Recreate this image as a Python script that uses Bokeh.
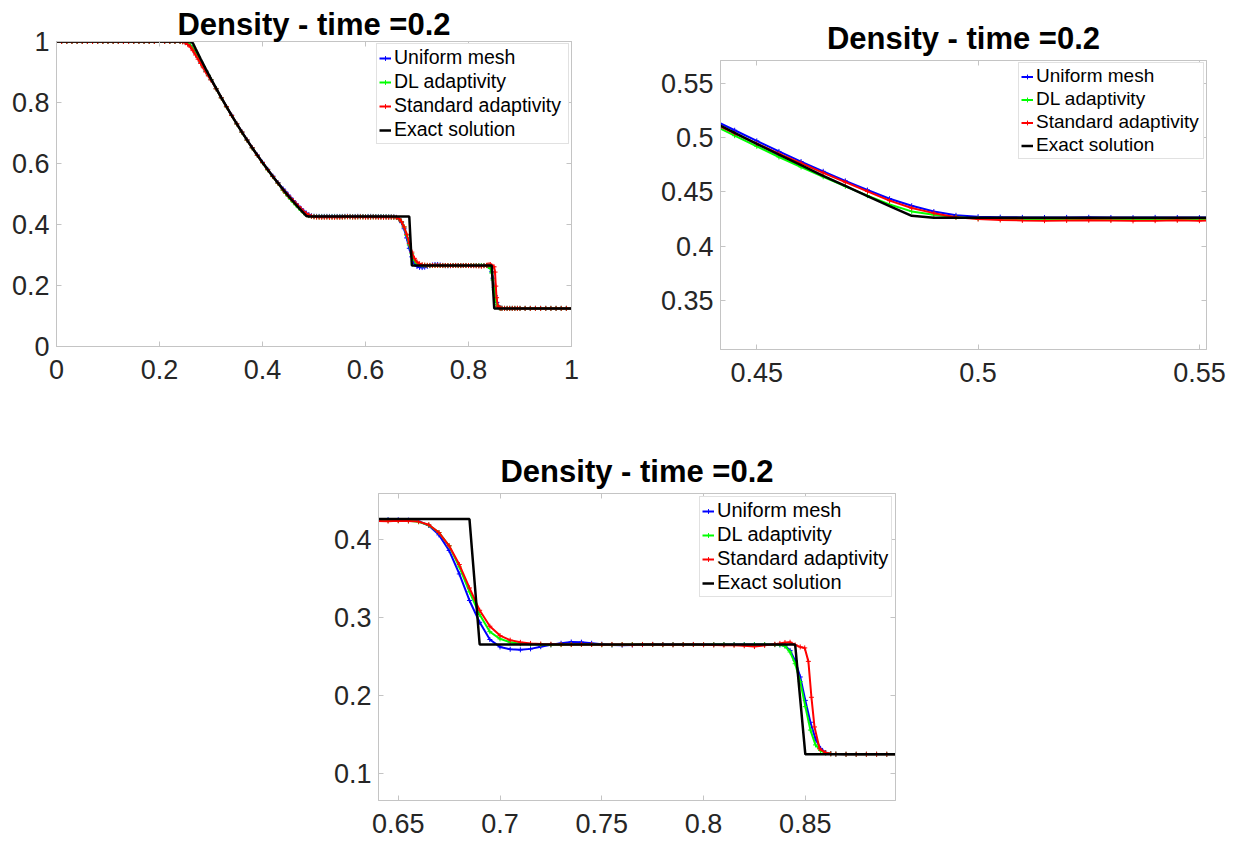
from bokeh.plotting import figure
from bokeh.models import (Range1d, FixedTicker, LinearAxis, Legend, LegendItem,
                          ColumnDataSource)
from bokeh.layouts import column, row
from bokeh.embed import file_html
from bokeh.resources import INLINE

# ---------------- data ----------------
series_names = ["Uniform mesh", "DL adaptivity", "Standard adaptivity", "Exact solution"]
series_colors = ["#0000ff", "#00ff00", "#ff0000", "#000000"]

flat_x = [0.00, 0.01, 0.02, 0.03, 0.04, 0.05, 0.06, 0.07, 0.08, 0.09, 0.10, 0.11, 0.12,
          0.13, 0.14, 0.15, 0.16, 0.17, 0.18, 0.19, 0.20, 0.21, 0.22, 0.23, 0.24]
head_x = [0.245, 0.25, 0.255, 0.26, 0.265, 0.27, 0.275, 0.28, 0.285, 0.29, 0.295, 0.30]
fan_x = [0.31, 0.32, 0.33, 0.34, 0.35, 0.36, 0.37, 0.38, 0.39, 0.40, 0.41, 0.42, 0.43]
mid_x = [0.440, 0.445, 0.450, 0.455, 0.460, 0.465, 0.470, 0.475, 0.480, 0.485,
         0.490, 0.495, 0.500, 0.505, 0.510, 0.515, 0.520, 0.525, 0.530, 0.535,
         0.540, 0.545, 0.550, 0.555, 0.560, 0.565, 0.570, 0.575, 0.580, 0.585,
         0.590, 0.595, 0.600, 0.605, 0.610, 0.615, 0.620, 0.625, 0.630, 0.635,
         0.640, 0.645, 0.650, 0.655, 0.660, 0.665, 0.670, 0.675, 0.680, 0.685,
         0.690, 0.695, 0.700, 0.705, 0.710, 0.715, 0.720, 0.725, 0.730, 0.735,
         0.740, 0.745, 0.750, 0.755, 0.760, 0.765, 0.770, 0.775, 0.780, 0.785,
         0.790, 0.795, 0.800, 0.805, 0.810, 0.815, 0.820, 0.825, 0.830, 0.835]
shock_x = [0.8375, 0.84, 0.8425, 0.845, 0.8475, 0.85, 0.8525, 0.855, 0.8575, 0.86, 0.8625, 0.865]
std_shock_x = [0.8375, 0.84, 0.8425, 0.845, 0.8475, 0.8497, 0.8515, 0.853, 0.8545, 0.857,
               0.86, 0.8625, 0.865]
right_x = [0.87, 0.875, 0.88, 0.885, 0.89, 0.895]
far_x = [0.90, 0.91, 0.92, 0.93, 0.94, 0.95, 0.96, 0.97, 0.98, 0.99, 1.00]

uniform_x = flat_x + head_x + fan_x + mid_x + shock_x + right_x + far_x
uniform_y = ([1.0, 1.0, 1.0, 1.0, 1.0, 1.0, 1.0, 1.0, 1.0, 1.0, 1.0, 1.0, 1.0,
              1.0, 1.0, 1.0, 1.0, 1.0, 1.0, 1.0, 1.0, 1.0, 1.0, 1.0, 1.0]
             + [0.9995, 0.998, 0.994, 0.987, 0.976, 0.962, 0.948, 0.932, 0.918, 0.903, 0.889, 0.875]
             + [0.8455, 0.8160, 0.7868, 0.7583, 0.7305, 0.7036, 0.6775, 0.6522, 0.6277,
                0.6040, 0.5810, 0.5588, 0.5374]
             + [0.5167, 0.5068, 0.4970, 0.4873, 0.4780, 0.4690, 0.4602, 0.4518, 0.4438, 0.4373,
                0.4320, 0.4285, 0.4272, 0.4268, 0.4266, 0.4265, 0.4266, 0.4267, 0.4265, 0.4264,
                0.4266, 0.4265, 0.4264, 0.4265, 0.4268, 0.4270, 0.4266, 0.4262, 0.4264, 0.4268,
                0.4266, 0.4263, 0.4262, 0.4265, 0.4267, 0.4264, 0.4262, 0.4263, 0.4261, 0.4259,
                0.4257, 0.4255, 0.4253, 0.4249, 0.4235, 0.4180, 0.4060, 0.3860, 0.3560, 0.3220,
                0.2940, 0.2720, 0.2625, 0.2595, 0.2588, 0.2600, 0.2628, 0.2652, 0.2672, 0.2688,
                0.2686, 0.2672, 0.2660, 0.2650, 0.2648, 0.2651, 0.2655, 0.2657, 0.2656, 0.2655,
                0.2656, 0.2657, 0.2656, 0.2655, 0.2656, 0.2656, 0.2655, 0.2656, 0.2656, 0.2655]
             + [0.2652, 0.2640, 0.2580, 0.2450, 0.2240, 0.1940, 0.1660, 0.1445, 0.1325, 0.1272,
                0.1258, 0.1252]
             + [0.125, 0.125, 0.125, 0.125, 0.125, 0.125]
             + [0.125, 0.125, 0.125, 0.125, 0.125, 0.125, 0.125, 0.125, 0.125, 0.125, 0.125])

dl_x = flat_x + head_x + fan_x + mid_x + shock_x + right_x + far_x
dl_y = ([1.0, 1.0, 1.0, 1.0, 1.0, 1.0, 1.0, 1.0, 1.0, 1.0, 1.0, 1.0, 1.0,
         1.0, 1.0, 1.0, 1.0, 1.0, 1.0, 1.0, 1.0, 1.0, 1.0, 1.0, 1.0]
        + [0.9997, 0.9985, 0.995, 0.988, 0.977, 0.963, 0.949, 0.933, 0.918, 0.903, 0.889, 0.875]
        + [0.8450, 0.8150, 0.7858, 0.7572, 0.7295, 0.7024, 0.6763, 0.6509, 0.6263,
           0.6025, 0.5793, 0.5570, 0.5352]
        + [0.5118, 0.5018, 0.4920, 0.4822, 0.4730, 0.4640, 0.4552, 0.4466, 0.4385, 0.4321,
           0.4290, 0.4268, 0.4256, 0.4252, 0.4250, 0.4249, 0.4248, 0.4250, 0.4246, 0.4248,
           0.4249, 0.4247, 0.4248, 0.4250, 0.4252, 0.4256, 0.4254, 0.4250, 0.4248, 0.4251,
           0.4255, 0.4252, 0.4249, 0.4248, 0.4250, 0.4252, 0.4250, 0.4248, 0.4249, 0.4248,
           0.4247, 0.4246, 0.4244, 0.4240, 0.4228, 0.4185, 0.4090, 0.3920, 0.3650, 0.3330,
           0.3040, 0.2820, 0.2728, 0.2685, 0.2665, 0.2658, 0.2655, 0.2652, 0.2654, 0.2657,
           0.2658, 0.2656, 0.2653, 0.2652, 0.2654, 0.2656, 0.2657, 0.2655, 0.2653, 0.2654,
           0.2656, 0.2655, 0.2654, 0.2655, 0.2656, 0.2654, 0.2653, 0.2654, 0.2655, 0.2654]
        + [0.2652, 0.2635, 0.2560, 0.2410, 0.2180, 0.1860, 0.1560, 0.1370, 0.1298, 0.1266,
           0.1256, 0.1252]
        + [0.125, 0.125, 0.125, 0.125, 0.125, 0.125]
        + [0.125, 0.125, 0.125, 0.125, 0.125, 0.125, 0.125, 0.125, 0.125, 0.125, 0.125])

std_x = flat_x + head_x + fan_x + mid_x + std_shock_x + right_x + far_x
std_y = ([1.0, 1.0, 1.0, 1.0, 1.0, 1.0, 1.0, 1.0, 1.0, 1.0, 1.0, 1.0, 1.0,
          1.0, 1.0, 1.0, 1.0, 1.0, 1.0, 1.0, 1.0, 1.0, 1.0, 1.0, 1.0]
         + [0.999, 0.996, 0.990, 0.982, 0.970, 0.956, 0.942, 0.928, 0.914, 0.900, 0.887, 0.874]
         + [0.8448, 0.8152, 0.7862, 0.7578, 0.7300, 0.7030, 0.6768, 0.6514, 0.6268,
            0.6030, 0.5798, 0.5575, 0.5358]
         + [0.5135, 0.5040, 0.4945, 0.4853, 0.4765, 0.4676, 0.4590, 0.4505, 0.4420, 0.4352,
            0.4305, 0.4268, 0.4250, 0.4242, 0.4238, 0.4236, 0.4238, 0.4240, 0.4237, 0.4234,
            0.4236, 0.4239, 0.4236, 0.4240, 0.4246, 0.4252, 0.4248, 0.4242, 0.4240, 0.4246,
            0.4250, 0.4244, 0.4240, 0.4238, 0.4242, 0.4245, 0.4240, 0.4237, 0.4238, 0.4236,
            0.4238, 0.4236, 0.4240, 0.4238, 0.4230, 0.4190, 0.4090, 0.3920, 0.3680, 0.3380,
            0.3094, 0.2890, 0.2770, 0.2712, 0.2684, 0.2670, 0.2663, 0.2660, 0.2657, 0.2655,
            0.2658, 0.2656, 0.2654, 0.2657, 0.2655, 0.2652, 0.2655, 0.2657, 0.2654, 0.2652,
            0.2655, 0.2656, 0.2653, 0.2650, 0.2648, 0.2646, 0.2640, 0.2630, 0.2645, 0.2660]
         + [0.2670, 0.2682, 0.2685, 0.2650, 0.2625, 0.2612, 0.2440, 0.1980, 0.1600, 0.1320,
            0.1270, 0.1256, 0.1252]
         + [0.125, 0.125, 0.125, 0.125, 0.125, 0.125]
         + [0.125, 0.125, 0.125, 0.125, 0.125, 0.125, 0.125, 0.125, 0.125, 0.125, 0.125])

exact_x = [0.0, 0.26, 0.265, 0.27, 0.28, 0.29, 0.30, 0.32, 0.34, 0.36, 0.38, 0.40, 0.42,
           0.44, 0.445, 0.45, 0.455, 0.46, 0.465, 0.47, 0.475, 0.48, 0.485, 0.49,
           0.685, 0.69, 0.845, 0.85, 1.0]
exact_y = [1.0, 1.0, 0.9942, 0.9768, 0.9428, 0.9096, 0.8775, 0.8158, 0.7577, 0.7030,
           0.6514, 0.6030, 0.5574, 0.5147, 0.5044, 0.4943, 0.4843, 0.4746, 0.4649, 0.4555,
           0.4462, 0.4370, 0.4280, 0.4263, 0.4263, 0.2656, 0.2656, 0.125, 0.125]

title_text = "Density - time =0.2"

# tick values / labels of the three panels
full_xticks = [0, 0.2, 0.4, 0.6, 0.8, 1]
full_xlabels = ["0", "0.2", "0.4", "0.6", "0.8", "1"]
full_yticks = [0, 0.2, 0.4, 0.6, 0.8, 1]
full_ylabels = ["0", "0.2", "0.4", "0.6", "0.8", "1"]
fan_xticks = [0.45, 0.5, 0.55]
fan_xlabels = ["0.45", "0.5", "0.55"]
fan_yticks = [0.35, 0.4, 0.45, 0.5, 0.55]
fan_ylabels = ["0.35", "0.4", "0.45", "0.5", "0.55"]
shock_xticks = [0.65, 0.7, 0.75, 0.8, 0.85]
shock_xlabels = ["0.65", "0.7", "0.75", "0.8", "0.85"]
shock_yticks = [0.1, 0.2, 0.3, 0.4]
shock_ylabels = ["0.1", "0.2", "0.3", "0.4"]

# ---------------- styling ----------------
FONT = "Liberation Sans"
GREY = "#c4c4c4"
TICK_TEXT = "#262626"

numeric = [(series_names[0], series_colors[0], uniform_x, uniform_y),
           (series_names[1], series_colors[1], dl_x, dl_y),
           (series_names[2], series_colors[2], std_x, std_y)]


def style_axis(ax, ticks, labels, standoff):
    ax.ticker = FixedTicker(ticks=ticks)
    ax.major_label_overrides = dict(zip(ticks, labels))
    ax.major_label_text_font = FONT
    ax.major_label_text_font_size = "27px"
    ax.major_label_text_color = TICK_TEXT
    ax.major_label_standoff = standoff
    ax.axis_line_color = GREY
    ax.major_tick_line_color = GREY
    ax.major_tick_in = 5
    ax.major_tick_out = 0
    ax.minor_tick_line_color = None


def panel(width, height, borders, xr, yr, xt, xl, yt, yl, leg_font, leg_h, leg_lw,
          leg_margin, title_standoff, title_lh):
    L, R, T, B = borders
    p = figure(width=width, height=height, x_range=Range1d(*xr), y_range=Range1d(*yr),
               output_backend="svg", toolbar_location=None, title=title_text,
               min_border_left=L, min_border_right=R, min_border_top=T, min_border_bottom=B)
    p.frame_align = False
    p.background_fill_color = "white"
    p.border_fill_color = "white"
    p.outline_line_color = GREY
    p.xgrid.visible = False
    p.ygrid.visible = False
    p.title.align = "center"
    p.title.text_font = FONT
    p.title.text_font_size = "31px"
    p.title.text_font_style = "bold"
    p.title.text_color = "black"
    p.title.text_line_height = title_lh
    p.title.standoff = title_standoff
    style_axis(p.xaxis[0], xt, xl, 13)
    style_axis(p.yaxis[0], yt, yl, 7)
    for loc, ticks in (("right", yt), ("above", xt)):
        ax = LinearAxis(ticker=FixedTicker(ticks=ticks), major_label_text_font_size="1px",
                        major_label_text_color=None, major_label_standoff=0,
                        major_tick_in=5, major_tick_out=0, minor_tick_line_color=None,
                        axis_line_color=GREY, major_tick_line_color=GREY)
        p.add_layout(ax, loc)

    items = []
    for name, color, xs, ys in numeric:
        src = ColumnDataSource(dict(x=xs, y=ys))
        ln = p.line("x", "y", source=src, line_color=color, line_width=2)
        mk = p.scatter("x", "y", source=src, marker="cross", size=5, line_color=color,
                       line_width=1)
        items.append(LegendItem(label=name, renderers=[ln, mk]))
    ex = p.line(exact_x, exact_y, line_color=series_colors[3], line_width=2.5)
    items.append(LegendItem(label=series_names[3], renderers=[ex]))

    leg = Legend(items=items, location="top_right", margin=leg_margin, padding=2, spacing=1,
                 glyph_width=12, glyph_height=leg_h, label_height=leg_h, label_standoff=3,
                 label_width=leg_lw, label_text_font=FONT, label_text_font_size=leg_font,
                 label_text_color="black", border_line_color=GREY, border_line_width=1,
                 background_fill_color="white", background_fill_alpha=1.0)
    p.add_layout(leg)
    return p


p1 = panel(620, 420, (56, 49, 41, 74), (0, 1), (0, 1),
           full_xticks, full_xlabels, full_yticks, full_ylabels, "19.5px", 22, 172, 2, 0, 0.9)
p2 = panel(617, 420, (100, 31, 60, 71), (0.4418, 0.5516), (0.305, 0.571),
           fan_xticks, fan_xlabels, fan_yticks, fan_ylabels, "19px", 21, 165, 2, 9, 1.0)
p3 = panel(1237, 423, (378, 342, 73, 43), (0.6403, 0.8943), (0.0658, 0.459),
           shock_xticks, shock_xlabels, shock_yticks, shock_ylabels, "20px", 22, 172, 3, 9, 1.0)

layout = column(row(p1, p2), p3)
open("out.html", "w").write(file_html(layout, INLINE))
